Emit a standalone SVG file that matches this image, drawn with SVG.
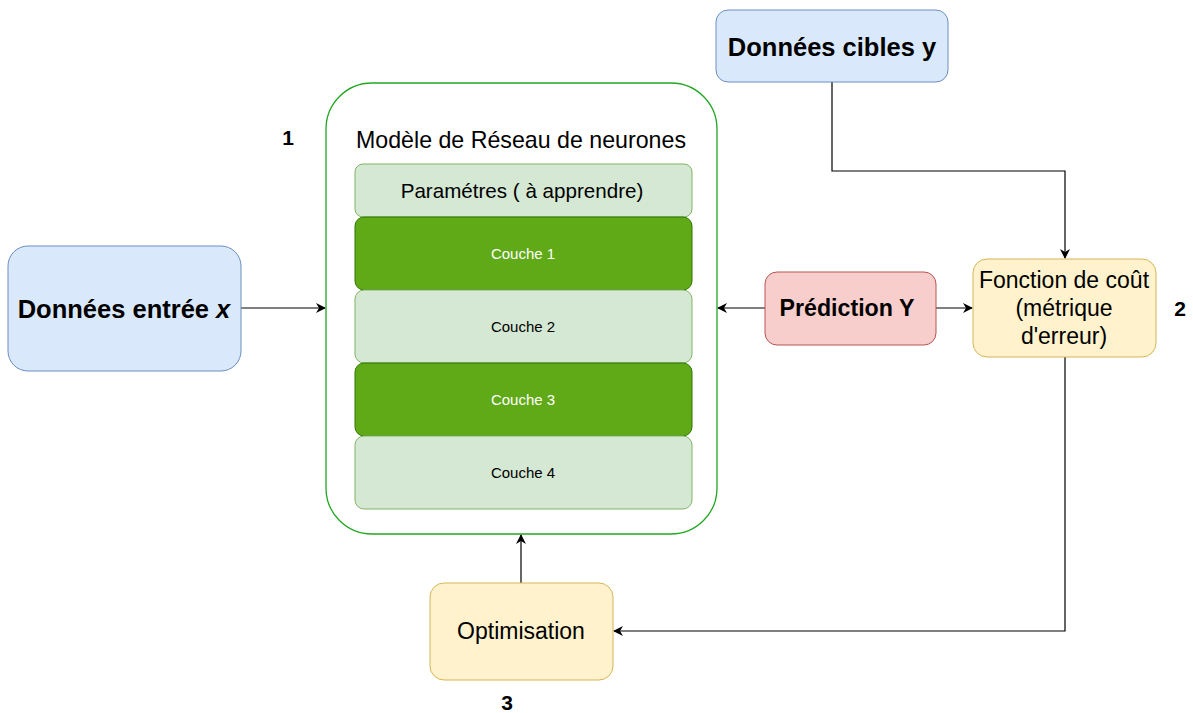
<svg xmlns="http://www.w3.org/2000/svg" width="1193" height="713" viewBox="0 0 1193 713">
<defs>
<style>
text{font-family:"Liberation Sans",Arial,sans-serif;text-anchor:middle;dominant-baseline:central;fill:#000}
.blue{fill:#dae8fc;stroke:#6c8ebf;stroke-width:1}
.lg{fill:#d5e8d4;stroke:#82b366;stroke-width:1}
.dg{fill:#60a917;stroke:#2d7600;stroke-width:1}
.yel{fill:#fff2cc;stroke:#d6b656;stroke-width:1}
.red{fill:#f8cecc;stroke:#b85450;stroke-width:1}
.edge{fill:none;stroke:#000;stroke-width:1.2}
.b{font-weight:bold}
</style>
<marker id="arr" viewBox="0 0 10 10" refX="9" refY="5" markerWidth="10" markerHeight="10" markerUnits="userSpaceOnUse" orient="auto">
<path d="M0,0 L10,5 L0,10 L3,5 Z" fill="#000"/>
</marker>
</defs>
<rect width="1193" height="713" fill="#fff"/>
<g id="connectors">
<path class="edge" d="M241,308 H325" marker-end="url(#arr)"/>
<path class="edge" d="M765,308 H718" marker-end="url(#arr)"/>
<path class="edge" d="M936,308 H972" marker-end="url(#arr)"/>
<path class="edge" d="M832,82 V171 H1065 V258" marker-end="url(#arr)"/>
<path class="edge" d="M1065,357 V631 H614" marker-end="url(#arr)"/>
<path class="edge" d="M521,583 V535" marker-end="url(#arr)"/>
</g>
<g id="model">
<rect x="326" y="83" width="391" height="451" rx="46" fill="#fff" stroke="#22a722" stroke-width="1.3"/>
<text x="521" y="140" font-size="23.2">Modèle de Réseau de neurones</text>
</g>
<g id="params">
<rect class="lg" x="355" y="164" width="337" height="53" rx="8"/>
<text x="522" y="190" font-size="20.6">Paramétres ( à apprendre)</text>
</g>
<g id="couche1">
<rect class="dg" x="355" y="217" width="337" height="73" rx="9"/>
<text x="523" y="253" font-size="15" style="fill:#fff">Couche 1</text>
</g>
<g id="couche2">
<rect class="lg" x="355" y="290" width="337" height="73" rx="9"/>
<text x="523" y="326" font-size="15">Couche 2</text>
</g>
<g id="couche3">
<rect class="dg" x="355" y="363" width="337" height="73" rx="9"/>
<text x="523" y="399" font-size="15" style="fill:#fff">Couche 3</text>
</g>
<g id="couche4">
<rect class="lg" x="355" y="436" width="337" height="73" rx="9"/>
<text x="523" y="472" font-size="15">Couche 4</text>
</g>
<g id="entree">
<rect class="blue" x="8" y="246" width="233" height="125" rx="20"/>
<text x="124" y="309" font-size="25.5" class="b">Données entrée <tspan font-style="italic">x</tspan></text>
</g>
<g id="cibles">
<rect class="blue" x="716" y="10" width="232" height="72" rx="12"/>
<text x="832" y="47" font-size="25.5" class="b">Données cibles y</text>
</g>
<g id="prediction">
<rect class="red" x="765" y="272" width="171" height="73" rx="12"/>
<text x="847" y="308" font-size="23.2" class="b">Prédiction Y</text>
</g>
<g id="cout">
<rect class="yel" x="973" y="259" width="183" height="98" rx="14"/>
<text x="1064" y="280" font-size="23">Fonction de coût</text>
<text x="1064" y="308" font-size="23">(métrique</text>
<text x="1064" y="336" font-size="23">d'erreur)</text>
</g>
<g id="optimisation">
<rect class="yel" x="430" y="583" width="183" height="97" rx="14"/>
<text x="521" y="631" font-size="23">Optimisation</text>
</g>
<g id="labels">
<text x="288" y="137" font-size="21" class="b">1</text>
<text x="1180" y="308" font-size="21" class="b">2</text>
<text x="507" y="702" font-size="21" class="b">3</text>
</g>
</svg>
